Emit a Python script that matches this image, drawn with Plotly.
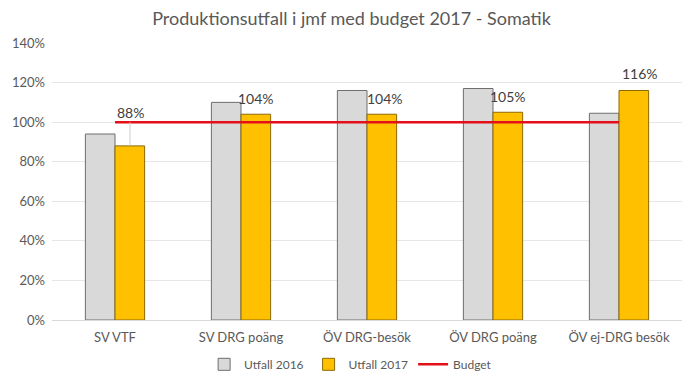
import plotly.graph_objects as go

categories = ["SV VTF", "SV DRG poäng", "ÖV DRG-besök", "ÖV DRG poäng", "ÖV ej-DRG besök"]
utfall_2016 = [94, 110, 116, 117, 104.5]
utfall_2017 = [88, 104, 104, 105, 116]
budget = [100, 100, 100, 100, 100]
y_ticks = [0, 20, 40, 60, 80, 100, 120, 140]

FONT = "Lato"
fig = go.Figure()
fig.add_trace(go.Bar(name="Utfall 2016", x=categories, y=utfall_2016,
                     marker=dict(color="#D9D9D9", line=dict(color="#6E6E6E", width=1))))
fig.add_trace(go.Bar(name="Utfall 2017", x=categories, y=utfall_2017,
                     marker=dict(color="#FFC000", line=dict(color="#8C6A00", width=1))))
fig.add_trace(go.Scatter(name="Budget", x=categories, y=budget, mode="lines",
                         line=dict(color="#E3101A", width=2.5)))

# data labels (moved like in the source chart)
for i, (c, v) in enumerate(zip(categories, utfall_2017)):
    if i == 0:
        fig.add_annotation(x=c, y=v, xref="x", yref="y", text=f"{v}%", showarrow=True,
                           arrowhead=0, arrowwidth=0.8, arrowcolor="#BFBFBF", ax=0, ay=-33,
                           xshift=15, font=dict(family=FONT, size=14, color="#404040"),
                           borderpad=0)
    elif i == 4:
        fig.add_annotation(x=c, y=v, xref="x", yref="y", text=f"{v}%", showarrow=False,
                           yanchor="bottom", xshift=21, yshift=6,
                           font=dict(family=FONT, size=14, color="#404040"))
    else:
        fig.add_annotation(x=c, y=v, xref="x", yref="y", text=f"{v}%", showarrow=False,
                           yanchor="bottom", xshift=15 + (3 if i == 2 else 0), yshift=5,
                           font=dict(family=FONT, size=14, color="#404040"))

fig.update_layout(
    width=687, height=376,
    margin=dict(l=44, r=13, t=35, b=64, autoexpand=False),
    paper_bgcolor="white", plot_bgcolor="white",
    title=dict(text="Produktionsutfall i jmf med budget 2017 - Somatik", x=0.5, xanchor="center",
               y=0.972, yanchor="middle", font=dict(family=FONT, size=18, color="#595959")),
    barmode="group", bargap=0.53, bargroupgap=0,
    showlegend=True,
    legend=dict(orientation="h", x=0.474, xanchor="center", y=-0.16, yanchor="middle",
                font=dict(family=FONT, size=12, color="#595959"), traceorder="normal",
                itemwidth=30),
    font=dict(family=FONT, color="#595959"),
)
fig.update_yaxes(range=[0, 140], tickvals=y_ticks, ticktext=[f"{t}%" for t in y_ticks],
                 showgrid=True, gridcolor="#E6E6E6", gridwidth=1, zeroline=True,
                 zerolinecolor="#D9D9D9", zerolinewidth=1, showline=False, automargin=False,
                 tickfont=dict(family=FONT, size=13, color="#595959"), ticks="", ticklen=0,
                 ticklabelstandoff=6)
fig.update_xaxes(showgrid=False, showline=False, automargin=False,
                 tickfont=dict(family=FONT, size=13, color="#595959"), ticks="",
                 ticklabelstandoff=8)

fig.write_html("out.html")
